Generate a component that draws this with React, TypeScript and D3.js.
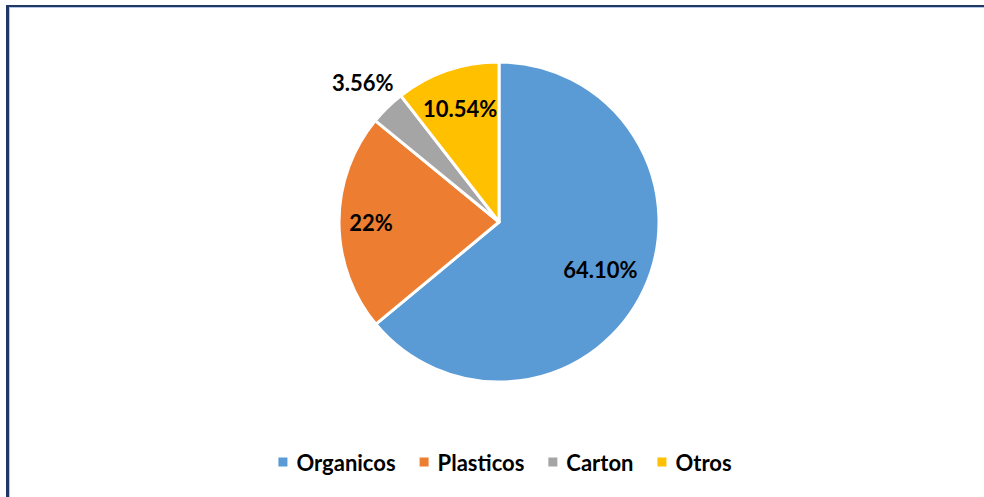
import React, { useEffect, useRef } from "react";
import * as d3 from "d3";

const categories = ["Organicos", "Plasticos", "Carton", "Otros"];
const values = [64.1, 22, 3.56, 10.54];
const labels = ["64.10%", "22%", "3.56%", "10.54%"];
const colors = ["#5B9BD5", "#ED7D31", "#A5A5A5", "#FFC000"];
// label distance as a share of the radius
const labelRadius = [0.7, 0.8, 1.22, 0.75];

export default function App() {
  const ref = useRef<SVGSVGElement | null>(null);

  useEffect(() => {
    document.body.style.margin = "0";
    if (!ref.current) return;
    const svg = d3.select(ref.current);
    svg.selectAll("*").remove();

    const width = 984;
    const height = 497;
    const cx = 499;
    const cy = 222;
    const r = 160;
    const font = "Lato, sans-serif";

    svg.append("rect").attr("width", width).attr("height", height).attr("fill", "#fff");

    // frame on the left and top
    svg.append("rect").attr("x", 6).attr("y", 5).attr("width", 3).attr("height", height).attr("fill", "#1F3864");
    svg.append("rect").attr("x", 9).attr("y", 7).attr("width", 1).attr("height", height).attr("fill", "#B4C7E7");
    svg.append("rect").attr("x", 6).attr("y", 5).attr("width", width).attr("height", 2).attr("fill", "#1F3864");
    svg.append("rect").attr("x", 9).attr("y", 7).attr("width", width).attr("height", 1).attr("fill", "#B4C7E7");

    const pie = d3.pie<number>().sort(null).value((d) => d);
    const arcs = pie(values);
    const arc = d3.arc<d3.PieArcDatum<number>>().innerRadius(0).outerRadius(r);

    const g = svg.append("g").attr("transform", `translate(${cx},${cy})`);
    g.selectAll("path")
      .data(arcs)
      .enter()
      .append("path")
      .attr("d", arc)
      .attr("fill", (d, i) => colors[i])
      .attr("stroke", "#fff")
      .attr("stroke-width", 3)
      .attr("stroke-linejoin", "round");

    g.selectAll("text.lbl")
      .data(arcs)
      .enter()
      .append("text")
      .attr("class", "lbl")
      .attr("transform", (d, i) => {
        const lr = r * labelRadius[i];
        const c = d3.arc<d3.PieArcDatum<number>>().innerRadius(lr).outerRadius(lr).centroid(d);
        return `translate(${c[0]},${c[1]})`;
      })
      .attr("text-anchor", "middle")
      .attr("dominant-baseline", "central")
      .attr("font-family", font)
      .attr("font-weight", "bold")
      .attr("font-size", 22)
      .attr("fill", "#000")
      .text((d, i) => labels[i]);

    // legend
    const legend = svg.append("g").attr("transform", `translate(0,462)`);
    const items = legend
      .selectAll("g")
      .data(categories)
      .enter()
      .append("g");
    items
      .append("text")
      .attr("x", 18)
      .attr("dominant-baseline", "central")
      .attr("font-family", font)
      .attr("font-weight", "bold")
      .attr("font-size", 22)
      .attr("fill", "#000")
      .text((d) => d);
    items
      .append("rect")
      .attr("x", 0)
      .attr("y", -4.5)
      .attr("width", 9)
      .attr("height", 9)
      .attr("fill", (d, i) => colors[i]);

    const widths: number[] = [];
    items.each(function () {
      const t = d3.select(this).select("text").node() as SVGTextElement;
      widths.push(18 + t.getComputedTextLength());
    });
    const gap = 24;
    const total = d3.sum(widths) + gap * (widths.length - 1);
    let x = 505 - total / 2;
    items.attr("transform", (d, i) => {
      const pos = x;
      x += widths[i] + gap;
      return `translate(${pos},0)`;
    });
  }, []);

  return <svg ref={ref} width={984} height={497} style={{ display: "block" }}></svg>;
}
